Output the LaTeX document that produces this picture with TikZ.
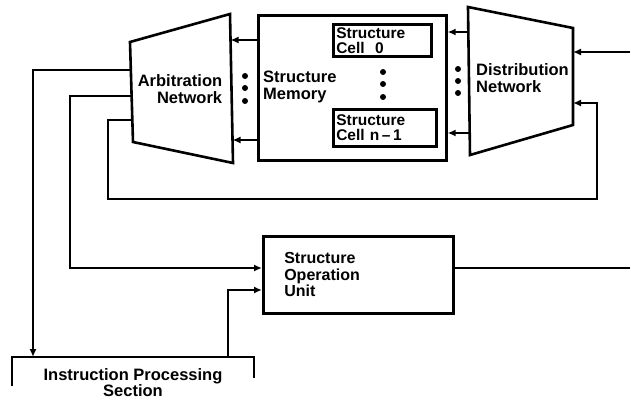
\documentclass[tikz,border=0pt]{standalone}
\usepackage{fontspec}
\setmainfont{Liberation Sans}
\usetikzlibrary{arrows.meta}
\begin{document}
\begin{tikzpicture}[x=1pt,y=-1pt,
  box/.style={draw, line width=2.6pt, line join=miter},
  wire/.style={line width=1.7pt},
  arr/.style={wire, -{Latex[length=8pt,width=7pt]}},
  lbl/.style={font=\fontsize{16.5}{16.5}\selectfont\bfseries, inner sep=0pt},
  cell/.style={box, font=\fontsize{15.5}{15}\selectfont\bfseries, align=left, inner xsep=3pt, inner ysep=2pt, anchor=north west},
  blob/.style={circle, fill, inner sep=0pt, minimum size=6pt}]
\useasboundingbox (0,0) rectangle (630,399);

% Arbitration network
\coordinate (a1) at (130,42);
\coordinate (a2) at (230,14);
\coordinate (a3) at (233,163);
\coordinate (a4) at (133,142);
\draw[box] (a1) -- (a2) -- (a3) -- (a4) -- cycle;
\node[lbl, align=right] (arbtext) at (180,89) {Arbitration\\Network};

% Structure memory
\node[box, inner sep=0pt, minimum width=188pt, minimum height=145pt, anchor=north west] (mem) at (257,14) {};
\node[lbl, align=left, anchor=west] (memtext) at (263,87) {Structure\\Memory};
\node[cell, text width=92pt, minimum height=32pt] (cell0) at (332,23) {Structure\\Cell~~0};
\node[cell, text width=97pt, minimum height=37pt] (celln) at (332,108) {Structure\\Cell n\,--\,1};
\node[blob] (m1) at (383,72) {};
\node[blob] (m2) at (383,84) {};
\node[blob] (m3) at (383,97) {};

% Distribution network
\coordinate (d1) at (468,7);
\coordinate (d2) at (573,28);
\coordinate (d3) at (573,125);
\coordinate (d4) at (470,155);
\draw[box] (d1) -- (d2) -- (d3) -- (d4) -- cycle;
\node[lbl, align=left, anchor=west] (disttext) at (476,78) {Distribution\\Network};

% dots between blocks
\node[blob] (l1) at (245,76) {};
\node[blob] (l2) at (245,88) {};
\node[blob] (l3) at (245,101) {};
\node[blob] (r1) at (458,69) {};
\node[blob] (r2) at (458,81) {};
\node[blob] (r3) at (458,93) {};

% connection points
\coordinate (ar1) at (230.5,40);
\coordinate (ar2) at (232.5,140);
\coordinate (dl1) at (468.5,32);
\coordinate (dl2) at (469.8,133);
\coordinate (dr1) at (573,52);
\coordinate (dr2) at (573,103);
\coordinate (in1) at (630,52);
\coordinate (al1) at (130.8,70);
\coordinate (al2) at (131.6,96);
\coordinate (al3) at (132.3,120);

\draw[arr] (mem.west |- ar1) -- (ar1);
\draw[arr] (mem.west |- ar2) -- (ar2);
\draw[arr] (dl1) -- (mem.east |- dl1);
\draw[arr] (dl2) -- (mem.east |- dl2);
\draw[arr] (in1) -- (dr1);
\draw[arr] (al3) -| (108,199) -| (597,103) -- (dr2);

% Structure operation unit
\node[box, anchor=north west, minimum width=190pt, minimum height=77pt, inner xsep=21pt, text width=148pt, align=left, font=\fontsize{16}{16.5}\selectfont\bfseries] (sou) at (262,235) {Structure\\Operation\\Unit};
\coordinate (out1) at (630,268);
\draw[wire] (sou.east |- out1) -- (out1);

% Instruction processing section
\coordinate (ipsA) at (12,386);
\coordinate (ipsT) at (33,357);
\coordinate (ipsU) at (228,357);
\coordinate (ipsB) at (254,378);
\draw[box] (ipsA) -- (12,357) -- (254,357) -- (ipsB);
\node[font=\fontsize{16.5}{14.5}\selectfont\bfseries, align=center, inner sep=0pt] (ipstext) at (133,382.5) {Instruction Processing\\Section};

\draw[arr] (al2) -| (70,268) -- (sou.west |- 0,268);
\draw[arr] (al1) -| (ipsT);
\draw[arr] (ipsU) |- (sou.west |- 0,290);
\end{tikzpicture}
\end{document}
